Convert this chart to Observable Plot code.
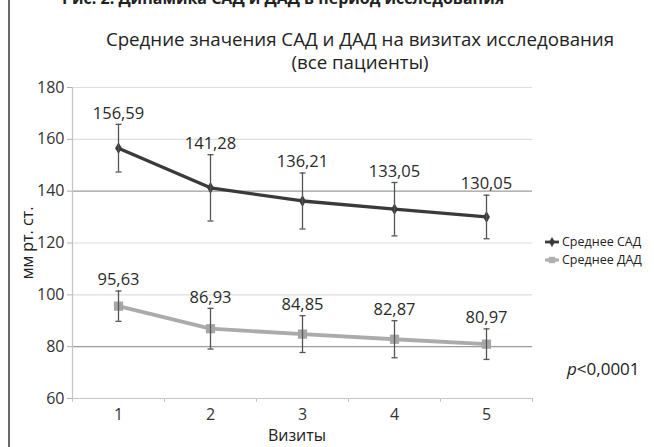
<!DOCTYPE html>
<html>
<head>
<meta charset="utf-8">
<script src="https://cdn.jsdelivr.net/npm/d3@7"></script>
<script src="https://cdn.jsdelivr.net/npm/@observablehq/plot@0.6"></script>
<style>
  html, body { margin: 0; padding: 0; background: #fff; }
  #chart { width: 654px; height: 447px; overflow: hidden; }
</style>
</head>
<body>
<div id="chart"></div>
<script>
// ---- data ----
const visits = [1, 2, 3, 4, 5];
const sadMean = [156.59, 141.28, 136.21, 133.05, 130.05];
const sadSD   = [9.2, 12.8, 10.8, 10.3, 8.4];
const dadMean = [95.63, 86.93, 84.85, 82.87, 80.97];
const dadSD   = [5.85, 7.85, 7.1, 7.15, 5.9];
const yTicks  = [60, 80, 100, 120, 140, 160, 180];
const xBounds = [0.5, 1.5, 2.5, 3.5, 4.5, 5.5];
const seriesNames = ["Среднее САД", "Среднее ДАД"];
const titleLines = ["Средние значения САД и ДАД на визитах исследования", "(все пациенты)"];
const figureCaption = "Рис. 2. Динамика САД и ДАД в период исследования";
const yLabel = "мм рт. ст.";
const xLabel = "Визиты";
const pText = "<0,0001";

const sad = visits.map((v, i) => ({visit: v, mean: sadMean[i], lo: sadMean[i] - sadSD[i], hi: sadMean[i] + sadSD[i]}));
const dad = visits.map((v, i) => ({visit: v, mean: dadMean[i], lo: dadMean[i] - dadSD[i], hi: dadMean[i] + dadSD[i]}));
const fmt = d => d3.format(".2f")(d).replace(".", ",");

const capSymbol = {
  draw(ctx, size) {
    const r = Math.sqrt(size / Math.PI);
    ctx.moveTo(-r, 0); ctx.lineTo(r, 0);
  }
};

const FONT = "'Open Sans', sans-serif";
const SAD_C = "#3a3a3a", DAD_C = "#ababab", ERR_C = "#555";

const plot = Plot.plot({
  width: 654,
  height: 447,
  marginLeft: 72,
  marginRight: 122,
  marginTop: 87,
  marginBottom: 49,
  style: {fontFamily: FONT, fontSize: "16px", color: "#333", background: "#fff", overflow: "visible"},
  x: {type: "linear", domain: [0.5, 5.5], label: null},
  y: {domain: [60, 180], label: null},
  marks: [
    Plot.ruleY(yTicks.filter(d => d > 60), {stroke: d => (d === 140 || d === 80) ? "#9c9c9c" : "#dedede", strokeWidth: 1.2}),
    Plot.ruleY([60], {stroke: "#c4c4c4", strokeWidth: 1.2}),
    Plot.ruleX([0.5], {stroke: "#c4c4c4", strokeWidth: 1.2}),
    Plot.axisX({ticks: xBounds, tickSize: 4, tickFormat: () => "", stroke: "#c4c4c4", label: null}),
    Plot.axisX({ticks: visits, tickSize: 0, tickPadding: 10, tickFormat: d => String(d), label: null, fontSize: 16, fill: "#333"}),
    Plot.axisY({ticks: yTicks, tickSize: 5, tickPadding: 3, label: null, fontSize: 16, fill: "#333", stroke: "#b0b0b0"}),
    // lines
    Plot.line(sad, {x: "visit", y: "mean", stroke: SAD_C, strokeWidth: 3.3}),
    Plot.line(dad, {x: "visit", y: "mean", stroke: DAD_C, strokeWidth: 3.8}),
    Plot.dot(sad, {x: "visit", y: "mean", symbol: "diamond", r: 3.6, fill: SAD_C}),
    Plot.dot(dad, {x: "visit", y: "mean", symbol: "square", r: 5.2, fill: "#a6a6a6"}),
    // error bars
    Plot.ruleX(sad, {x: "visit", y1: "lo", y2: "hi", stroke: ERR_C, strokeWidth: 1.3}),
    Plot.ruleX(dad, {x: "visit", y1: "lo", y2: "hi", stroke: ERR_C, strokeWidth: 1.3}),
    Plot.dot(sad, {x: "visit", y: "lo", symbol: capSymbol, r: 3, stroke: ERR_C, strokeWidth: 1.3}),
    Plot.dot(sad, {x: "visit", y: "hi", symbol: capSymbol, r: 3, stroke: ERR_C, strokeWidth: 1.3}),
    Plot.dot(dad, {x: "visit", y: "lo", symbol: capSymbol, r: 3, stroke: ERR_C, strokeWidth: 1.3}),
    Plot.dot(dad, {x: "visit", y: "hi", symbol: capSymbol, r: 3, stroke: ERR_C, strokeWidth: 1.3}),
    // value labels
    Plot.text(sad, {x: "visit", y: "hi", text: d => fmt(d.mean), dy: -11, fontSize: 16.5, fill: "#2a2a2a"}),
    Plot.text(dad, {x: "visit", y: "hi", text: d => fmt(d.mean), dy: -11, fontSize: 16.5, fill: "#2a2a2a"})
  ]
});

const svg = d3.select(plot);
const addText = (x, y, txt, opts = {}) => svg.append("text")
  .attr("x", x).attr("y", y)
  .attr("text-anchor", opts.anchor || "start")
  .attr("font-size", opts.size || 16)
  .attr("font-weight", opts.weight || "normal")
  .attr("fill", "#222")
  .attr("font-family", FONT)
  .text(txt);

// border on the left of the figure
svg.append("line").attr("x1", 9).attr("x2", 9).attr("y1", 0).attr("y2", 447).attr("stroke", "#444").attr("stroke-width", 1.6);
// cut-off figure caption at the very top
addText(62, 4, figureCaption, {weight: "bold", size: 16});
// chart title
addText(360, 46, titleLines[0], {anchor: "middle", size: 18.7});
addText(360, 69, titleLines[1], {anchor: "middle", size: 18.7});
// y label
svg.append("text").attr("transform", "translate(33,243) rotate(-90)").attr("text-anchor", "middle")
  .attr("font-size", 16).attr("fill", "#222").attr("font-family", FONT).text(yLabel);
// x label
addText(297, 441, xLabel, {anchor: "middle", size: 16});
// legend
const leg = svg.append("g").attr("font-family", FONT).attr("font-size", 12.5).attr("fill", "#222").attr("text-anchor", "start");
[[SAD_C, d3.symbolDiamond, 30, 2.8], ["#b0b0b0", d3.symbolSquare, 40, 3.2]].forEach(([c, sym, sz, w], i) => {
  const y = 242 + i * 18;
  leg.append("line").attr("x1", 545).attr("x2", 559).attr("y1", y).attr("y2", y).attr("stroke", c).attr("stroke-width", w);
  leg.append("path").attr("d", d3.symbol(sym, sz)()).attr("transform", `translate(552,${y})`).attr("fill", c);
  leg.append("text").attr("x", 562).attr("y", y).attr("dy", "0.35em").text(seriesNames[i]);
});
// p-value
const p = svg.append("text").attr("x", 567).attr("y", 375).attr("text-anchor", "start")
  .attr("font-size", 17).attr("fill", "#222").attr("font-family", FONT);
p.append("tspan").attr("font-style", "italic").text("p");
p.append("tspan").text(pText);

document.getElementById("chart").appendChild(plot);
</script>
</body>
</html>
